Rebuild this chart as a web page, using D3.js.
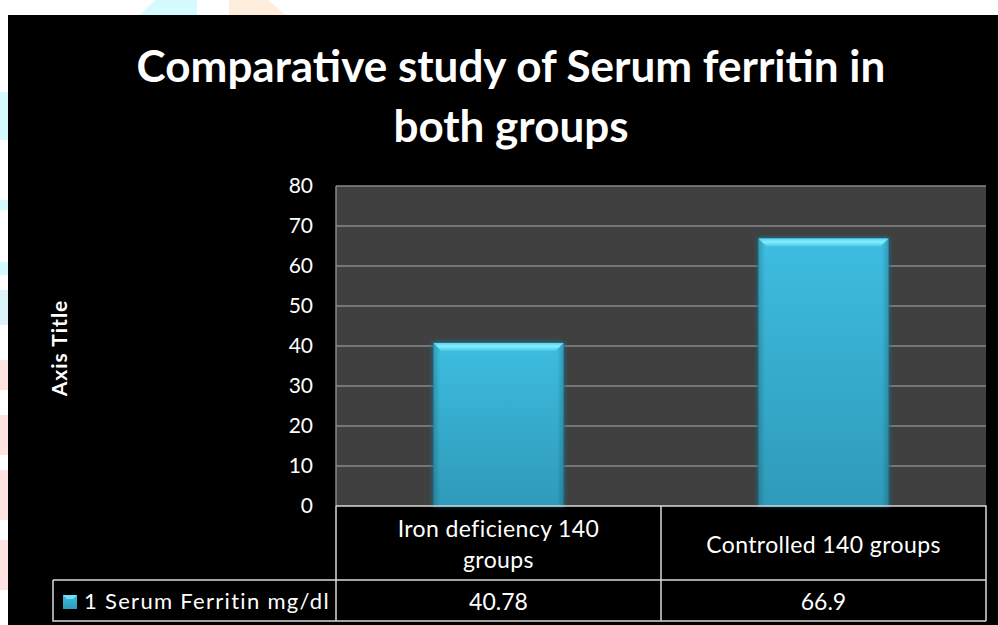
<!DOCTYPE html>
<html>
<head>
<meta charset="utf-8">
<script src="https://cdn.jsdelivr.net/npm/d3@7"></script>
<style>
  body { margin: 0; background: #fff; }
  svg { display: block; }
</style>
</head>
<body>
<div id="chart"></div>
<script>
// chart data
var categories = ["Iron deficiency 140 groups", "Controlled 140 groups"];
var categoryLines = [["Iron deficiency 140", "groups"], ["Controlled 140 groups"]];
var values = [40.78, 66.9];
var valueLabels = ["40.78", "66.9"];
var yTicks = [0, 10, 20, 30, 40, 50, 60, 70, 80];
var seriesName = "1 Serum Ferritin mg/dl";
var titleLines = ["Comparative study of Serum ferritin in", "both groups"];

var W = 998, H = 625;
var font = "Lato, 'Open Sans', sans-serif";

var svg = d3.select("#chart")
  .append("svg")
    .attr("width", W)
    .attr("height", H);

var defs = svg.append("defs");

// bar gradient
var grad = defs.append("linearGradient")
  .attr("id", "barGrad").attr("x1", 0).attr("y1", 0).attr("x2", 0).attr("y2", 1);
grad.append("stop").attr("offset", "0%").attr("stop-color", "#3dbde0");
grad.append("stop").attr("offset", "100%").attr("stop-color", "#2f9ab9");

var sideGrad = defs.append("linearGradient")
  .attr("id", "sideGrad").attr("x1", 0).attr("y1", 0).attr("x2", 1).attr("y2", 0);
sideGrad.append("stop").attr("offset", "0%").attr("stop-color", "#000").attr("stop-opacity", 0.18);
sideGrad.append("stop").attr("offset", "5%").attr("stop-color", "#000").attr("stop-opacity", 0);
sideGrad.append("stop").attr("offset", "95%").attr("stop-color", "#000").attr("stop-opacity", 0);
sideGrad.append("stop").attr("offset", "100%").attr("stop-color", "#000").attr("stop-opacity", 0.18);

var bevelGrad = defs.append("linearGradient")
  .attr("id", "bevelGrad").attr("x1", 0).attr("y1", 0).attr("x2", 0).attr("y2", 1);
bevelGrad.append("stop").attr("offset", "0%").attr("stop-color", "#5fd3ee");
bevelGrad.append("stop").attr("offset", "45%").attr("stop-color", "#80f0ff");
bevelGrad.append("stop").attr("offset", "100%").attr("stop-color", "#4cc6e6");

defs.append("filter").attr("id", "glow")
  .attr("x", "-10%").attr("y", "-10%").attr("width", "120%").attr("height", "120%")
  .append("feGaussianBlur").attr("stdDeviation", 2);

// faint watermark pieces around the black panel
var marks = svg.append("g");
marks.append("path").attr("d", "M140,15 L155,0 L197,0 L197,15 Z").attr("fill", "#d6fbff");
marks.append("path").attr("d", "M229,15 L229,0 L268,0 L286,15 Z").attr("fill", "#ffeedd");
[[92, 140, "#d6fbff"], [200, 210, "#d6fbff"], [262, 275, "#d6fbff"], [290, 325, "#dcf3fb"],
 [360, 390, "#ffe3e3"], [415, 455, "#ffe3e3"], [470, 520, "#ffe3e3"], [540, 590, "#ffe3e3"]]
  .forEach(function(s) {
    marks.append("rect").attr("x", 0).attr("y", s[0]).attr("width", 8).attr("height", s[1] - s[0]).attr("fill", s[2]);
  });

// black panel
svg.append("rect")
  .attr("x", 8).attr("y", 15).attr("width", W - 8).attr("height", H - 15)
  .attr("fill", "#000");

// title
svg.append("g").selectAll("text")
  .data(titleLines)
  .join("text")
    .attr("x", 511)
    .attr("y", function(d, i) { return 82 + i * 60; })
    .attr("text-anchor", "middle")
    .attr("fill", "#fff")
    .style("font-family", font)
    .style("font-weight", "bold")
    .style("font-size", "44px")
    .text(function(d) { return d; });

// scales
var plot = {left: 336, right: 986, top: 186, bottom: 506};

var x = d3.scaleBand()
  .domain(categories)
  .range([plot.left, plot.right])
  .paddingInner(0.6)
  .paddingOuter(0.3);

var xCell = d3.scaleBand()
  .domain(categories)
  .range([plot.left, plot.right]);

var y = d3.scaleLinear()
  .domain([0, 80])
  .range([plot.bottom, plot.top]);

// plot background
svg.append("rect")
  .attr("x", plot.left).attr("y", plot.top)
  .attr("width", plot.right - plot.left).attr("height", plot.bottom - plot.top)
  .attr("fill", "#404040");

// gridlines
svg.append("g").selectAll("line")
  .data(yTicks.filter(function(t) { return t > 0; }))
  .join("line")
    .attr("x1", plot.left).attr("x2", plot.right)
    .attr("y1", function(d) { return y(d); })
    .attr("y2", function(d) { return y(d); })
    .attr("stroke", "#8a8a8a")
    .attr("stroke-width", 1.5);

svg.append("line")
  .attr("x1", plot.left).attr("x2", plot.left)
  .attr("y1", plot.top).attr("y2", plot.bottom)
  .attr("stroke", "#8a8a8a").attr("stroke-width", 1.5);

// y axis labels
var yAxis = svg.append("g")
  .attr("transform", "translate(" + (plot.left - 23) + ",0)")
  .call(d3.axisLeft(y).tickValues(yTicks).tickSize(0).tickPadding(0));
yAxis.select(".domain").remove();
yAxis.selectAll("text")
  .attr("fill", "#fff")
  .style("font-family", font)
  .style("font-size", "21px");

// axis title
svg.append("text")
  .attr("transform", "translate(67,348) rotate(-90)")
  .attr("text-anchor", "middle")
  .attr("fill", "#fff")
  .style("font-family", font)
  .style("font-weight", "bold")
  .style("font-size", "21px")
  .style("letter-spacing", "1px")
  .text("Axis Title");

// bars
var bars = svg.append("g").selectAll("g")
  .data(values)
  .join("g");

bars.append("rect")
  .attr("x", function(d, i) { return x(categories[i]) - 1; })
  .attr("y", function(d) { return y(d) - 1; })
  .attr("width", x.bandwidth() + 2)
  .attr("height", function(d) { return y(0) - y(d) + 1; })
  .attr("fill", "#1d6f88")
  .attr("filter", "url(#glow)");

bars.append("rect")
  .attr("x", function(d, i) { return x(categories[i]); })
  .attr("y", function(d) { return y(d); })
  .attr("width", x.bandwidth())
  .attr("height", function(d) { return y(0) - y(d); })
  .attr("fill", "url(#barGrad)");

bars.append("rect")
  .attr("x", function(d, i) { return x(categories[i]); })
  .attr("y", function(d) { return y(d); })
  .attr("width", x.bandwidth())
  .attr("height", function(d) { return y(0) - y(d); })
  .attr("fill", "url(#sideGrad)");

// bevel on top of each bar
bars.append("path")
  .attr("d", function(d, i) {
    var x0 = x(categories[i]), x1 = x0 + x.bandwidth(), yt = y(d);
    return "M" + x0 + "," + yt + "L" + x1 + "," + yt +
      "L" + (x1 - 8) + "," + (yt + 8) + "L" + (x0 + 8) + "," + (yt + 8) + "Z";
  })
  .attr("fill", "url(#bevelGrad)");

// data table
var table = svg.append("g")
  .attr("fill", "none")
  .attr("stroke", "#d9d9d9")
  .attr("stroke-width", 1.5);
var rowMid = 580, rowBottom = 621;

table.append("path")
  .attr("d", "M" + plot.left + "," + plot.bottom + "V" + rowBottom +
    "M" + plot.left + "," + plot.bottom + "H" + plot.right + "V" + rowBottom +
    "M53," + rowMid + "H" + plot.right +
    "M53," + rowMid + "V" + rowBottom + "H" + plot.right);

table.selectAll("line.col")
  .data(categories.slice(1))
  .join("line")
    .attr("class", "col")
    .attr("x1", function(d) { return xCell(d); })
    .attr("x2", function(d) { return xCell(d); })
    .attr("y1", plot.bottom).attr("y2", rowBottom);

// category labels
var catText = svg.append("g").selectAll("text")
  .data(categoryLines)
  .join("text")
    .attr("text-anchor", "middle")
    .attr("fill", "#fff")
    .style("font-family", font)
    .style("font-size", "23px")
    .style("letter-spacing", "0.4px")
    .attr("x", function(d, i) { return xCell(categories[i]) + xCell.bandwidth() / 2; })
    .attr("y", function(d) { return d.length > 1 ? 537 : 553; });

catText.selectAll("tspan")
  .data(function(d) { return d; })
  .join("tspan")
    .attr("x", function() { return this.parentNode.getAttribute("x"); })
    .attr("dy", function(d, i) { return i === 0 ? 0 : 31; })
    .text(function(d) { return d; });

// value labels
svg.append("g").selectAll("text")
  .data(valueLabels)
  .join("text")
    .attr("text-anchor", "middle")
    .attr("fill", "#fff")
    .style("font-family", font)
    .style("font-size", "23px")
    .attr("x", function(d, i) { return xCell(categories[i]) + xCell.bandwidth() / 2; })
    .attr("y", 610)
    .text(function(d) { return d; });

// legend key in the table
svg.append("rect")
  .attr("x", 63).attr("y", 595)
  .attr("width", 14).attr("height", 14)
  .attr("fill", "url(#barGrad)");
svg.append("path")
  .attr("d", "M63,595H77L73,599H67Z")
  .attr("fill", "#6fe0f6");

svg.append("text")
  .attr("x", 84).attr("y", 609)
  .attr("fill", "#fff")
  .style("font-family", font)
  .style("font-size", "22px")
  .style("letter-spacing", "1.3px")
  .text(seriesName);
</script>
</body>
</html>
